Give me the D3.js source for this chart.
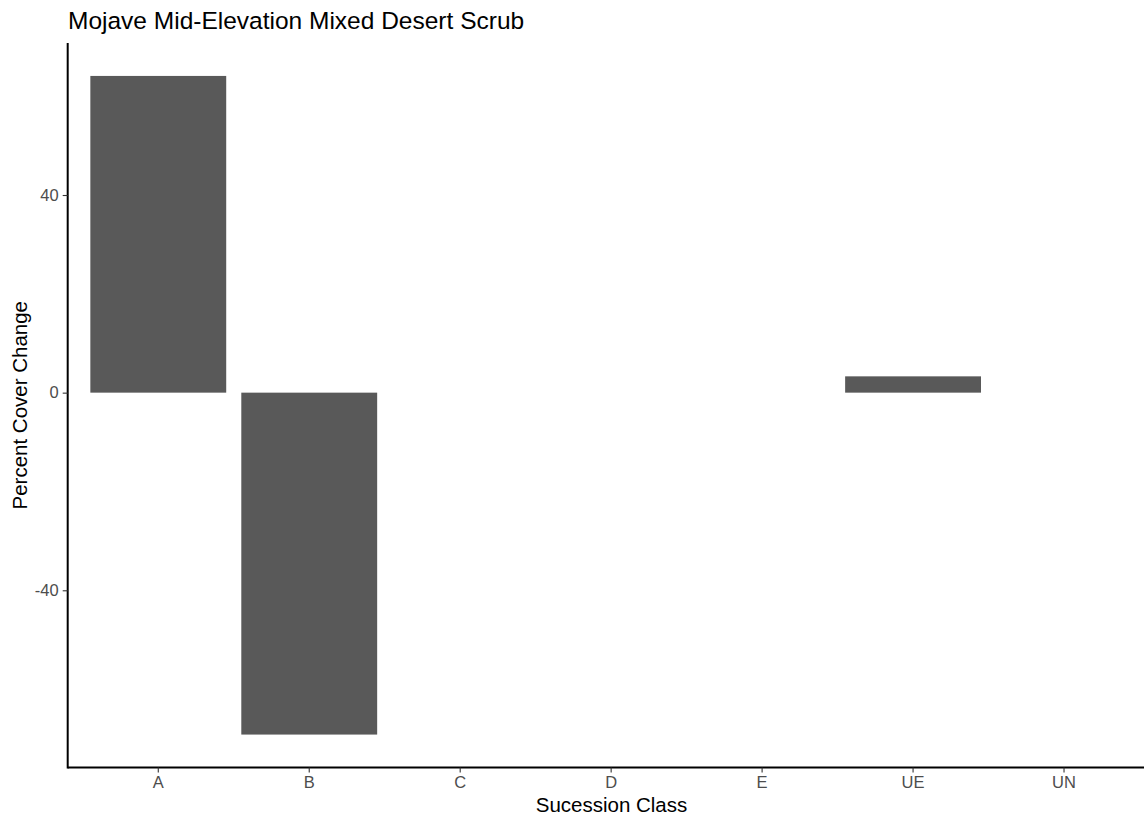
<!DOCTYPE html>
<html>
<head>
<meta charset="utf-8">
<script src="https://cdn.jsdelivr.net/npm/d3@7"></script>
<style>
  html, body { margin: 0; padding: 0; background: #ffffff; }
  svg { display: block; font-family: "Liberation Sans", Arial, sans-serif; }
</style>
</head>
<body>
<svg id="chart" width="1144" height="817"></svg>
<script>
// Succession classes and their percent cover change
const classes = ["A", "B", "C", "D", "E", "UE", "UN"];
const coverChange = [64.1, -69.2, 0, 0, 0, 3.3, 0];
const yTicks = [-40, 0, 40];

const titleText = "Mojave Mid-Elevation Mixed Desert Scrub";
const xTitle = "Sucession Class";
const yTitle = "Percent Cover Change";

const W = 1144, H = 817;
const plot = { left: 67.7, right: 1154.6, top: 43, bottom: 767.5 };

const svg = d3.select("#chart");

// Discrete x scale: bars take 0.9 of each step, 0.6 step expansion at the ends
const x = d3.scaleBand()
  .domain(classes)
  .range([plot.left, plot.right])
  .paddingInner(0.1)
  .paddingOuter(0.15);

// Continuous y scale with 5% expansion of the data range
const lo = Math.min(0, d3.min(coverChange));
const hi = Math.max(0, d3.max(coverChange));
const pad = (hi - lo) * 0.05;
const y = d3.scaleLinear()
  .domain([lo - pad, hi + pad])
  .range([plot.bottom, plot.top]);

const data = classes.map((c, i) => ({ cls: c, value: coverChange[i] }));

// Bars
svg.append("g")
  .selectAll("rect")
  .data(data.filter(d => d.value !== 0))
  .join("rect")
  .attr("x", d => x(d.cls))
  .attr("width", x.bandwidth())
  .attr("y", d => y(Math.max(0, d.value)))
  .attr("height", d => Math.abs(y(d.value) - y(0)))
  .attr("fill", "#595959");

// Axes
const xAxis = svg.append("g")
  .attr("transform", `translate(0,${plot.bottom})`)
  .call(d3.axisBottom(x).tickSizeInner(5).tickSizeOuter(0).tickPadding(4));
const yAxis = svg.append("g")
  .attr("transform", `translate(${plot.left},0)`)
  .call(d3.axisLeft(y).tickValues(yTicks).tickFormat(d => String(d))
    .tickSizeInner(5).tickSizeOuter(0).tickPadding(4));

[xAxis, yAxis].forEach(g => {
  g.attr("font-size", null).attr("font-family", null);
  g.select(".domain").attr("stroke", "#000").attr("stroke-width", 2);
  g.selectAll(".tick line").attr("stroke", "#333").attr("stroke-width", 1.1);
  g.selectAll(".tick text")
    .attr("fill", "#4d4d4d")
    .style("font-size", "16.5px");
});
// The x axis line spans the full panel width
xAxis.select(".domain").attr("d", `M${plot.left},0H${W + 20}`);
yAxis.select(".domain").attr("d", `M0,${plot.top}V${plot.bottom + 1}`);

// Titles
svg.append("text")
  .attr("x", 68)
  .attr("y", 29)
  .attr("fill", "#000")
  .style("font-size", "24.5px")
  .text(titleText);

svg.append("text")
  .attr("x", 611.5)
  .attr("y", 812)
  .attr("text-anchor", "middle")
  .attr("fill", "#000")
  .style("font-size", "20.5px")
  .text(xTitle);

svg.append("text")
  .attr("transform", `translate(27,${(plot.top + plot.bottom) / 2}) rotate(-90)`)
  .attr("text-anchor", "middle")
  .attr("fill", "#000")
  .style("font-size", "20.5px")
  .text(yTitle);
</script>
</body>
</html>
